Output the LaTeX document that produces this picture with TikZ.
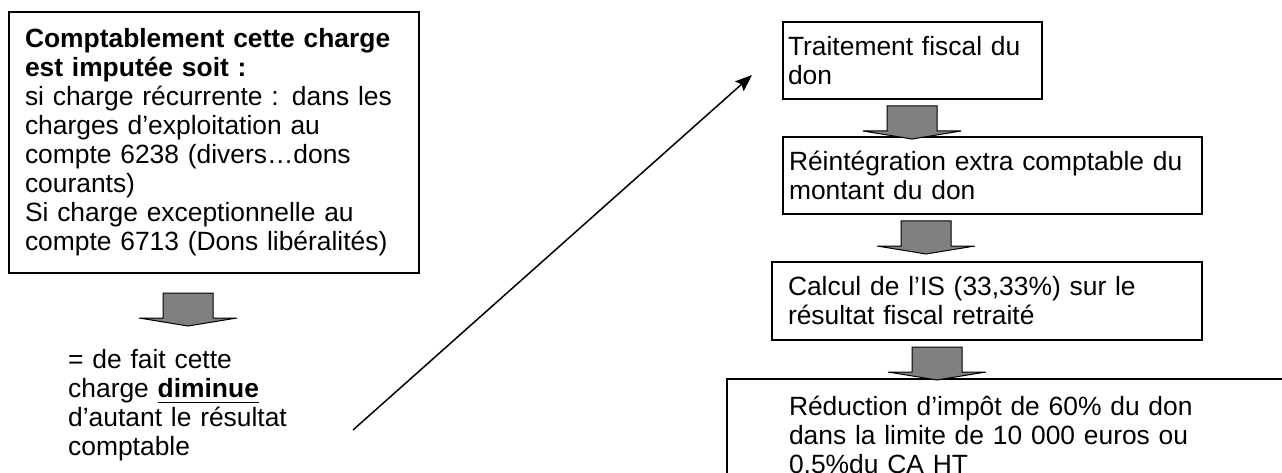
\documentclass[tikz,border=0pt]{standalone}
\usepackage{fontspec}
\setmainfont{Liberation Sans}
\usetikzlibrary{positioning, arrows.meta, calc}
\newsavebox{\soulboite}
\newcommand{\souligne}[1]{\sbox{\soulboite}{#1}\rlap{\rule[-6pt]{\wd\soulboite}{1.8pt}}\usebox{\soulboite}}
\newcommand{\taille}{\fontsize{26.4}{29}\selectfont}
\tikzset{
    x=1pt, y=-1pt, % one unit is one pixel of the page, y runs downwards
    boite/.style={ % framed text boxes
        draw,
        line width=1.3pt,
        align=left,
        inner ysep=0pt,
        font=\taille
    },
    texte/.style={ % free text
        align=left,
        inner sep=0pt,
        font=\taille
    },
    fleche/.style={
        -{Stealth[length=17pt, width=13pt, inset=3pt]},
        line width=1.5pt
    },
    flechebas/.pic={ % grey block arrow pointing down
        \draw[fill=gray, line width=1pt, line join=miter]
            (-25,0) -- (25,0) -- (25,25) -- (49,25) -- (0,33)
            -- (-49,25) -- (-25,25) -- cycle;
    },
}

\begin{document}
\begin{tikzpicture}
            \useasboundingbox (0,0) rectangle (1282,473);
            \clip (0,0) rectangle (1282,473);

            % left column
            \node[boite, minimum height=261pt, text width=378pt, inner xsep=16pt]
                    (compta) at (214,142.5)
                    {\textbf{Comptablement cette charge}\\
                     \textbf{est imputée soit :}\\
                     si charge récurrente : dans les\\
                     charges d’exploitation au\\
                     compte 6238 (divers…dons\\
                     courants)\\
                     Si charge exceptionnelle au\\
                     compte 6713 (Dons libéralités)};
            \pic at (188,293) {flechebas};
            \node[texte, text width=250pt, anchor=north west]
                    (effet) at (68,349)
                    {= de fait cette\\
                     charge \souligne{\textbf{diminue}}\\
                     d’autant le résultat\\
                     comptable};

            % right column
            \node[boite, minimum height=77pt, text width=249pt, inner xsep=5pt]
                    (traitement) at (912.5,60.5)
                    {Traitement fiscal du\\ don};
            \node[boite, minimum height=77pt, text width=407pt, inner xsep=6pt]
                    (reintegration) at (992.5,175.5)
                    {Réintégration extra comptable du\\ montant du don};
            \node[boite, minimum height=78pt, text width=398pt, inner xsep=16pt]
                    (calcul) at (987,301)
                    {Calcul de l’IS (33,33\%) sur le\\ résultat fiscal retraité};
            \node[boite, minimum height=114pt, text width=449pt, inner xsep=62pt]
                    (reduction) at (1013.5,436)
                    {Réduction d’impôt de 60\% du don\\
                     dans la limite de 10 000 euros ou\\
                     0,5\%du CA HT};
            \pic at (912,106) {flechebas};
            \pic at (926,221) {flechebas};
            \pic at (937,347) {flechebas};

            % link between the two columns
            \coordinate (depart)  at (353,430);
            \coordinate (arrivee) at (752,75);
            \draw[fleche] (depart) -- (arrivee);
\end{tikzpicture}
\end{document}
